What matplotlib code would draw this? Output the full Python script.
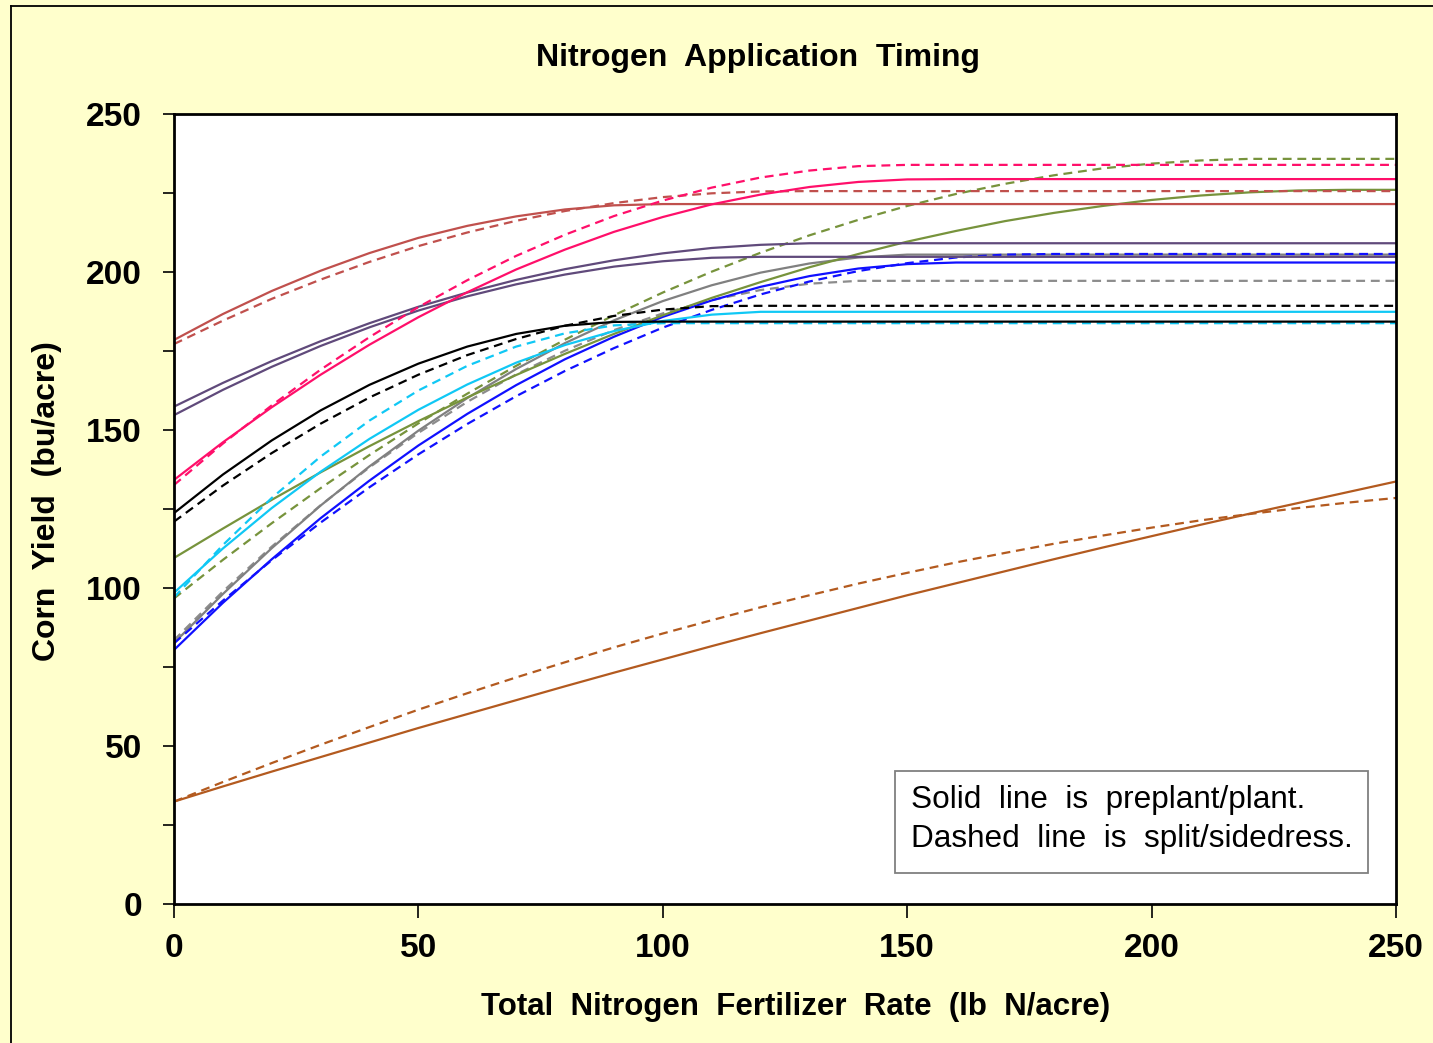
import matplotlib
matplotlib.use("Agg")
import matplotlib.pyplot as plt
from matplotlib.lines import Line2D
from matplotlib.patches import Rectangle

plt.rcParams['font.family'] = ['Liberation Sans', 'DejaVu Sans']

# ---- data ----
n_rate = list(range(0, 251, 10))

red_solid = [178.5, 186.7, 194.0, 200.4, 206.0, 210.8, 214.6, 217.6, 219.8, 221.1] + [221.5] * 16
red_dashed = [177.2, 184.6, 191.5, 197.6, 203.2, 208.2, 212.5, 216.2, 219.3, 221.8, 223.7, 224.9, 225.5] + [225.6] * 13
pink_solid = [134.2, 146.1, 157.2, 167.5, 177.0, 185.7, 193.6, 200.8, 207.1, 212.7, 217.4, 221.4, 224.5, 226.9, 228.5, 229.3] + [229.4] * 10
pink_dashed = [132.6, 145.7, 157.8, 169.1, 179.4, 188.9, 197.4, 205.1, 211.8, 217.7, 222.6, 226.7, 229.9, 232.1, 233.5] + [233.9] * 11
purple_a = [157.4, 164.9, 171.8, 178.1, 183.8, 189.0, 193.5, 197.5, 200.9, 203.7, 205.9, 207.6, 208.6, 209.1] + [209.1] * 12
purple_b = [154.7, 162.7, 170.0, 176.6, 182.5, 187.8, 192.3, 196.1, 199.2, 201.7, 203.4, 204.5] + [204.8] * 14
black_solid = [123.7, 135.9, 146.7, 156.2, 164.3, 171.0, 176.4, 180.4, 183.0, 184.2] + [184.3] * 16
black_dashed = [121.0, 132.4, 142.7, 152.0, 160.3, 167.5, 173.7, 178.8, 183.0, 186.1, 188.1, 189.2] + [189.3] * 14
cyan_solid = [98.5, 112.5, 125.3, 136.8, 147.2, 156.4, 164.4, 171.3, 176.9, 181.3, 184.5, 186.5, 187.4] + [187.4] * 13
cyan_dashed = [97.0, 113.6, 128.5, 141.6, 153.0, 162.5, 170.3, 176.4, 180.6, 183.1] + [183.8] * 16
olive_solid = [109.5, 118.8, 127.9, 136.6, 144.9, 152.8, 160.3, 167.4, 174.1, 180.4, 186.3, 191.8, 196.8,
               201.5, 205.7, 209.6, 213.0, 216.1, 218.7, 220.9, 222.8, 224.2, 225.2, 225.8, 226.0, 226.0]
olive_dashed = [96.7, 108.9, 120.5, 131.6, 142.1, 152.1, 161.5, 170.3, 178.6, 186.3, 193.5, 200.1, 206.1,
                211.6, 216.5, 220.9, 224.7, 227.9, 230.6, 232.8, 234.3, 235.3, 235.8, 235.8, 235.8, 235.8]
gray_solid = [82.6, 98.1, 112.6, 126.1, 138.5, 149.8, 160.1, 169.3, 177.5, 184.7, 190.8, 195.8, 199.8, 202.7, 204.6, 205.5] + [205.5] * 10
gray_dashed = [83.5, 98.9, 113.1, 126.2, 138.2, 149.1, 158.9, 167.6, 175.1, 181.6, 186.9, 191.1, 194.3, 196.3, 197.2] + [197.2] * 11
blue_solid = [80.4, 95.3, 109.1, 122.1, 134.0, 145.1, 155.1, 164.2, 172.4, 179.5, 185.8, 191.0, 195.3, 198.7, 201.1, 202.5, 203.0] + [203.0] * 9
blue_dashed = [82.5, 96.0, 108.8, 120.7, 131.9, 142.3, 151.9, 160.7, 168.7, 175.9, 182.4, 188.0, 192.9, 197.0, 200.3, 202.8, 204.6, 205.5] + [205.7] * 8
brown_solid = [32.4, 37.2, 41.9, 46.5, 51.1, 55.7, 60.1, 64.5, 68.9, 73.2, 77.4, 81.6, 85.7, 89.7, 93.7, 97.7,
               101.5, 105.3, 109.1, 112.8, 116.4, 120.0, 123.5, 126.9, 130.3, 133.7]
brown_dashed = [32.4, 38.6, 44.6, 50.4, 56.0, 61.5, 66.7, 71.7, 76.5, 81.2, 85.6, 89.8, 93.9, 97.7, 101.4, 104.8,
                108.1, 111.1, 114.0, 116.6, 119.1, 121.4, 123.4, 125.3, 127.0, 128.5]

x_ticks = [0, 50, 100, 150, 200, 250]
y_ticks = [0, 50, 100, 150, 200, 250]

title = "Nitrogen  Application  Timing"
x_label = "Total  Nitrogen  Fertilizer  Rate  (lb  N/acre)"
y_label = "Corn  Yield  (bu/acre)"
note_lines = ["Solid  line  is  preplant/plant.", "Dashed  line  is  split/sidedress."]

# ---- styles ----
SOLID = '-'
DASH = (0, (4.0, 2.6))
series = [
    (brown_dashed, '#B35A1F', DASH), (brown_solid, '#B35A1F', SOLID),
    (gray_dashed, '#8C8C8C', DASH), (gray_solid, '#808080', SOLID),
    (blue_dashed, '#1010FF', DASH), (blue_solid, '#1010FF', SOLID),
    (olive_dashed, '#77933C', DASH), (olive_solid, '#77933C', SOLID),
    (cyan_dashed, '#10C8F5', DASH), (cyan_solid, '#10C8F5', SOLID),
    (black_dashed, '#000000', DASH), (black_solid, '#000000', SOLID),
    (purple_b, '#604A7B', SOLID), (purple_a, '#604A7B', SOLID),
    (red_dashed, '#C0504D', DASH), (red_solid, '#C0504D', SOLID),
    (pink_dashed, '#FF0F6A', DASH), (pink_solid, '#FF0F6A', SOLID),
]

W, H = 1433, 1043
fig = plt.figure(figsize=(W / 100, H / 100), dpi=100, facecolor='#FFFFCC')
ax = fig.add_axes([174 / W, 1 - 904 / H, (1396 - 174) / W, (904 - 114) / H])
ax.set_facecolor('white')

for vals, col, ls in series:
    ax.plot(n_rate, vals, color=col, linestyle=ls, linewidth=1.6, solid_capstyle='butt')

ax.set_xlim(0, 250)
ax.set_ylim(0, 250)
ax.set_xticks(x_ticks)
ax.set_yticks(y_ticks)
ax.set_yticks([25, 75, 125, 175, 225], minor=True)
for s in ax.spines.values():
    s.set_linewidth(2.0)
    s.set_color('black')
ax.tick_params(axis='y', which='both', direction='out', length=8, width=1.2, pad=15,
               labelsize=24)
ax.tick_params(axis='x', which='both', direction='out', length=10, width=1.2, pad=11,
               labelsize=24)
for lab in ax.get_xticklabels() + ax.get_yticklabels():
    lab.set_fontweight('bold')

fig.text(758 / W, 1 - 58 / H, title, ha='center', va='center', fontsize=23, fontweight='bold')
fig.text(796 / W, 1 - 1007 / H, x_label, ha='center', va='center', fontsize=22.5, fontweight='bold')
fig.text(47 / W, 1 - 501 / H, y_label, ha='center', va='center', rotation=90, fontsize=23,
         fontweight='bold')

# note box
fig.patches.append(Rectangle((895 / W, 1 - 873 / H), (1368 - 895) / W, (873 - 771) / H,
                             transform=fig.transFigure, facecolor='white', edgecolor='#808080',
                             linewidth=1.3, zorder=5))
fig.text(911 / W, 1 - 800 / H, note_lines[0], ha='left', va='center', fontsize=22.7, zorder=6)
fig.text(911 / W, 1 - 839 / H, note_lines[1], ha='left', va='center', fontsize=22.7, zorder=6)

# chart-area border (left and top edges)
fig.add_artist(Line2D([11 / W, 11 / W], [0, 1 - 6 / H], transform=fig.transFigure,
                      color='black', linewidth=1.3))
fig.add_artist(Line2D([11 / W, 1], [1 - 6 / H, 1 - 6 / H], transform=fig.transFigure,
                      color='black', linewidth=1.3))

fig.savefig('out.png', dpi=100, facecolor=fig.get_facecolor())
